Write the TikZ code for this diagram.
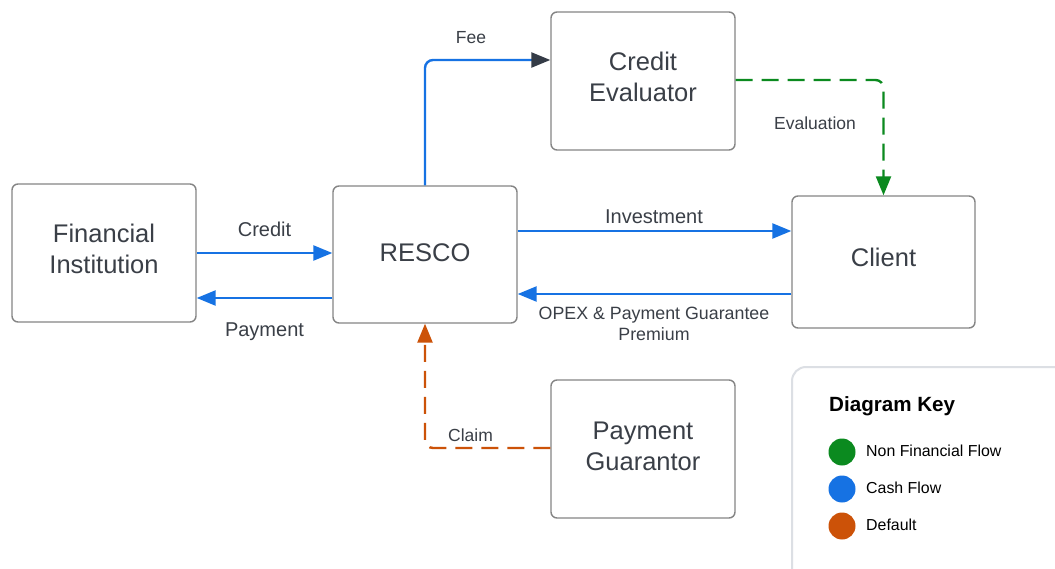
\documentclass[tikz,border=0pt]{standalone}
\usepackage{fontspec}
\setmainfont{Liberation Sans}
\usetikzlibrary{arrows.meta}
\definecolor{cashblue}{HTML}{1672E3}
\definecolor{nfgreen}{HTML}{0B8A1F}
\definecolor{deforange}{HTML}{CC5208}
\definecolor{tipdark}{HTML}{343B46}
\definecolor{boxgray}{HTML}{858585}
\definecolor{txt}{HTML}{3A3F47}
\definecolor{keygray}{HTML}{DCDFE4}
\tikzset{
  entity/.style={draw=boxgray, line width=1.4pt, rounded corners=6pt, inner sep=0pt},
  entitytext/.style={align=center, font=\fontsize{25.5}{31}\selectfont, text=txt, inner sep=0pt},
  flowlabel/.style={font=\fontsize{17.5}{21}\selectfont, text=txt, align=center, inner sep=0pt},
  biglabel/.style={flowlabel, font=\fontsize{20}{24}\selectfont},
  opexlabel/.style={flowlabel, font=\fontsize{17.8}{21}\selectfont},
  tipshape/.style={-{Triangle[length=19pt,width=15pt]}},
  cash/.style={draw=cashblue, line width=2.4pt, tipshape},
  nonfin/.style={draw=nfgreen, line width=2.4pt, dash pattern=on 17pt off 9pt, tipshape},
  deflt/.style={draw=deforange, line width=2.4pt, dash pattern=on 17pt off 9pt, tipshape},
  keydot/.style={circle, minimum size=27pt, inner sep=0pt},
  keytext/.style={anchor=west, font=\fontsize{15.9}{18}\selectfont, text=black, inner sep=0pt},
}
\begin{document}
\begin{tikzpicture}[x=1pt,y=-1pt]
\useasboundingbox (0,0) rectangle (1055,569);
\fill[white] (0,0) rectangle (1055,569);

% entities
\node[entity, minimum width=184pt, minimum height=138pt,
  label={[entitytext, yshift=4.5pt]center:{Financial\\Institution}}] (fi) at (104,253) {};
\node[entity, minimum width=184pt, minimum height=137pt,
  label={[entitytext, yshift=1.5pt]center:{RESCO}}] (resco) at (425,254.5) {};
\node[entity, minimum width=184pt, minimum height=138pt,
  label={[entitytext, yshift=4.5pt]center:{Credit\\Evaluator}}] (ce) at (643,81) {};
\node[entity, minimum width=183pt, minimum height=132pt,
  label={[entitytext, yshift=5pt]center:{Client}}] (client) at (883.5,262) {};
\node[entity, minimum width=184pt, minimum height=138pt,
  label={[entitytext, yshift=3pt]center:{Payment\\Guarantor}}] (pg) at (643,449) {};

% connectors
\draw[cash] (fi.east) -- (fi.east -| resco.west);
\draw[cash] (resco.west |- 0,298) -- (fi.east |- 0,298);
\draw[cash, rounded corners=8pt, -{Triangle[length=19pt,width=15pt,color=tipdark]}] (resco.north) |- (ce.west |- 0,60);
\draw[cash] (resco.east |- 0,231) -- (client.west |- 0,231);
\draw[cash] (client.west |- 0,294) -- (resco.east |- 0,294);
\draw[nonfin, rounded corners=8pt] (ce.east |- 0,80) -| (client.north);
\draw[deflt, rounded corners=8pt] (pg.west |- 0,448) -| (resco.south);

% labels
\node[biglabel] (lcredit) at (264.5,229) {Credit};
\node[biglabel] (lpay) at (264.5,332) {Payment};
\node[flowlabel] (lfee) at (471,38) {Fee};
\node[biglabel] (linv) at (654,217) {Investment};
\node[opexlabel] (lopex) at (654,324) {OPEX \& Payment Guarantee\\Premium};
\node[flowlabel] (leval) at (815,123) {Evaluation};
\node[flowlabel] (lclaim) at (470.5,435) {Claim};

% legend
\begin{scope}
\clip (0,0) rectangle (1055,569);
\draw[keygray, line width=2pt, rounded corners=14pt] (792,367) rectangle (1080,600);
\end{scope}
\node[anchor=west, font=\bfseries\fontsize{20.6}{24}\selectfont, text=black, inner sep=0pt] (keytitle) at (829,406) {Diagram Key};
\node[keydot, fill=nfgreen] (k1) at (842,452) {};
\node[keydot, fill=cashblue] (k2) at (842,489) {};
\node[keydot, fill=deforange] (k3) at (842,526) {};
\node[keytext] (t1) at (866,451) {Non Financial Flow};
\node[keytext] (t2) at (866,488) {Cash Flow};
\node[keytext] (t3) at (866,525) {Default};
\end{tikzpicture}
\end{document}
